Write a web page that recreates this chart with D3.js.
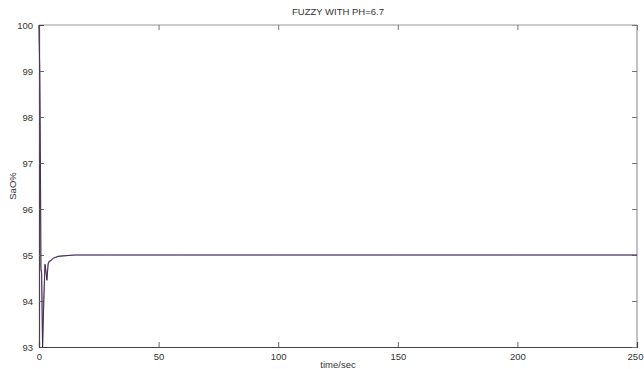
<!DOCTYPE html>
<html>
<head>
<meta charset="utf-8">
<script src="https://cdn.jsdelivr.net/npm/d3@7"></script>
<style>
  body { margin: 0; background: #fff; }
  svg { display: block; font-family: "Liberation Sans", Arial, sans-serif; }
</style>
</head>
<body>
<svg id="chart" width="644" height="369"></svg>
<script>
var width = 644, height = 369
var margin = {top: 25, right: 7, bottom: 22, left: 39}

// SaO2 response
var time = [0, 0.3, 0.6, 0.8, 1.1, 1.5, 2.0, 2.5, 3.0, 3.3, 3.8, 4.2, 5.0, 6.0, 7.0, 8.0, 10, 15, 30, 60, 100, 150, 200, 250]
var sao = [100, 99, 97, 94.7, 94.6, 93.0, 94.0, 94.8, 94.6, 94.45, 94.8, 94.86, 94.88, 94.93, 94.95, 94.97, 94.98, 95, 95, 95, 95, 95, 95, 95]
var xTicks = [0, 50, 100, 150, 200, 250]
var yTicks = [93, 94, 95, 96, 97, 98, 99, 100]

var svg = d3.select('#chart')
var x = d3.scaleLinear().domain([0, 250]).range([margin.left, width - margin.right])
var y = d3.scaleLinear().domain([93, 100]).range([height - margin.bottom, margin.top])

// box: top/right lighter like matlab
svg.append('line').attr('x1', x(0)).attr('x2', x(250)).attr('y1', y(100)).attr('y2', y(100))
    .attr('stroke', '#999').attr('stroke-width', 1.2)
svg.append('line').attr('x1', x(250)).attr('x2', x(250)).attr('y1', y(100)).attr('y2', y(93))
    .attr('stroke', '#999').attr('stroke-width', 1.2)

var gx = svg.append('g').attr('transform', 'translate(0,' + y(93) + ')')
    .call(d3.axisBottom(x).tickValues(xTicks).tickSize(-5).tickPadding(6).tickFormat(d3.format('d')))
var gxTop = svg.append('g').attr('transform', 'translate(0,' + y(100) + ')')
    .call(d3.axisTop(x).tickValues(xTicks).tickSize(-5).tickFormat(''))
var gy = svg.append('g').attr('transform', 'translate(' + x(0) + ',0)')
    .call(d3.axisLeft(y).tickValues(yTicks).tickSize(-5).tickPadding(6).tickFormat(d3.format('d')))
var gyRight = svg.append('g').attr('transform', 'translate(' + x(250) + ',0)')
    .call(d3.axisRight(y).tickValues(yTicks).tickSize(-5).tickFormat(''))

;[gx, gy].forEach(function(g) {
    g.select('.domain').attr('stroke', '#444').attr('stroke-width', 1.2)
    g.selectAll('.tick line').attr('stroke', '#666')
    g.selectAll('text').attr('fill', '#333').style('font-size', '9.5px').style('font-family', '"Liberation Sans", Arial, sans-serif')
})
;[gxTop, gyRight].forEach(function(g) {
    g.select('.domain').remove()
    g.selectAll('.tick line').attr('stroke', '#777')
})
gx.selectAll('.tick').filter(function(d) { return d == 0 || d == 250 }).select('line').remove()
gx.selectAll('.tick').filter(function(d) { return d == 250 }).select('text').attr('dx', -2)
gy.selectAll('.tick').filter(function(d) { return d == 93 || d == 100 }).select('line').remove()

var line = d3.line().x(function(d, i) { return x(time[i]) }).y(function(d) { return y(d) })
svg.append('path').datum(sao).attr('d', line)
    .attr('fill', 'none').attr('stroke', '#8a6a9a').attr('stroke-width', 1.1)
svg.append('path').datum(sao).attr('d', line)
    .attr('fill', 'none').attr('stroke', '#2a1a3a').attr('stroke-width', 0.7)

svg.append('text').attr('x', 338).attr('y', 15).attr('text-anchor', 'middle')
    .attr('fill', '#333').style('font-size', '9.5px').text('FUZZY WITH PH=6.7')
svg.append('text').attr('x', x(125)).attr('y', 368).attr('text-anchor', 'middle')
    .attr('fill', '#333').style('font-size', '9.5px').text('time/sec')
svg.append('text').attr('transform', 'translate(16,' + y(96.5) + ') rotate(-90)')
    .attr('text-anchor', 'middle').attr('fill', '#333').style('font-size', '9.5px').text('SaO%')
</script>
</body>
</html>
